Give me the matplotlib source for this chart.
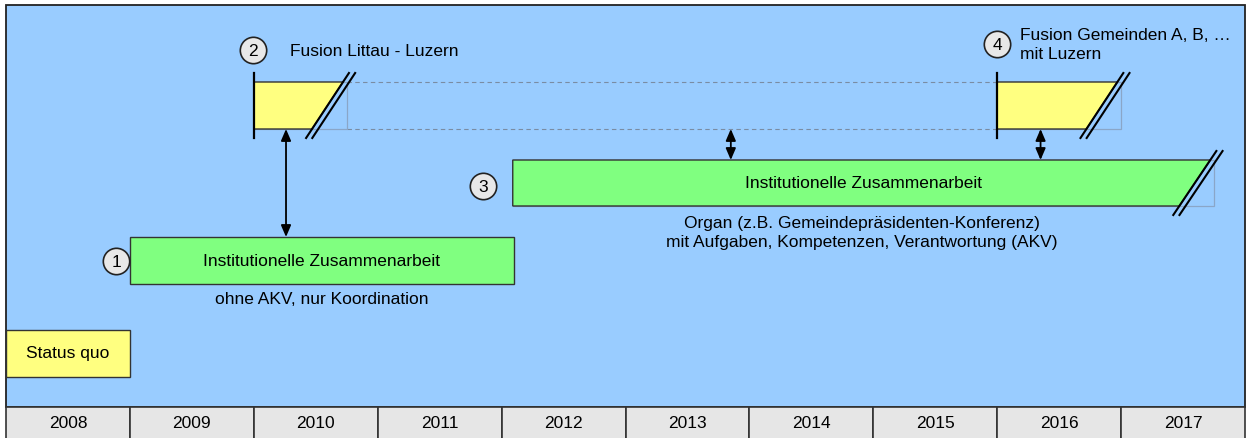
import matplotlib
matplotlib.use("Agg")
import matplotlib.pyplot as plt
from matplotlib.patches import Polygon, Rectangle

plt.rcParams['font.family'] = ['Liberation Sans', 'DejaVu Sans']

# Jahre der Zeitachse
jahre = [2008, 2009, 2010, 2011, 2012, 2013, 2014, 2015, 2016, 2017]

# Phasen: Start, Ende (Jahr), obere/untere Kante (Pixelzeile)
phasen_namen = ['Status quo', 'Institutionelle Zusammenarbeit', 'Fusion Littau - Luzern',
                'Institutionelle Zusammenarbeit', 'Fusion Gemeinden A, B, …\nmit Luzern']
phasen_start = [2008.0, 2009.0, 2010.0, 2012.09, 2016.0]
phasen_ende = [2009.0, 2012.1, 2010.75, 2017.75, 2017.0]
phasen_oben = [331, 238, 83, 161, 83]
phasen_unten = [378, 285, 130, 207, 130]
phasen_farbe = ['#FFFF80', '#80FF80', '#FFFF80', '#80FF80', '#FFFF80']
phasen_offen = [False, False, True, True, True]   # offenes Ende (schraeg + //)

# Nummern-Kreise
kreis_nr = ['1', '2', '3', '4']
kreis_x = [2008.89, 2009.99, 2011.85, 2016.0]
kreis_y = [262, 51, 187, 45]

# Pfeile zwischen den Phasen
pfeil_x = [2010.26, 2013.85, 2016.35]
pfeil_von = [130, 130, 130]
pfeil_bis = [238, 161, 161]

blau = '#99CCFF'
px_jahr = 123.9
fs = 12.5

fig = plt.figure(figsize=(12.46, 4.39), dpi=100)
ax = fig.add_axes([0, 0, 1, 1])
ax.set_xlim(2008 - 6 / px_jahr, 2008 + 1240 / px_jahr)
ax.set_ylim(439, 0)
ax.axis('off')

# Hintergrund
ax.add_patch(Rectangle((2008, 6), 10, 402, facecolor=blau, edgecolor='#222222', lw=1.3, zorder=0))

# Jahreszeile
for j in jahre:
    ax.add_patch(Rectangle((j, 408), 1, 40, facecolor='#E6E6E6', edgecolor='#333333', lw=1.2, zorder=1))
    ax.text(j + 0.5, 424, str(j), ha='center', va='center', fontsize=fs, zorder=2)

# gestrichelte Verbindung zwischen den Fusionen
for y in [83, 130]:
    ax.plot([phasen_ende[2], phasen_start[4]], [y, y], ls=(0, (4, 3)), color='#7A8CA3', lw=0.8, zorder=1)

schraeg = 0.25
for i in range(len(phasen_namen)):
    x0, x1 = phasen_start[i], phasen_ende[i]
    y0, y1 = phasen_oben[i], phasen_unten[i]
    if phasen_offen[i]:
        # Geister-Rechteck
        ax.add_patch(Rectangle((x0, y0), x1 - x0, y1 - y0, facecolor='none',
                               edgecolor='#8AA6C8', lw=0.9, zorder=2))
        oben_r = x1 - 0.03
        unten_r = oben_r - schraeg
        ax.add_patch(Polygon([(x0, y0), (oben_r, y0), (unten_r, y1), (x0, y1)],
                             facecolor=phasen_farbe[i], edgecolor='#333333', lw=1.0, zorder=3))
        # Doppelstrich //
        d = (oben_r - unten_r) / (y1 - y0)
        for off in [0.0, 0.05]:
            ax.plot([unten_r - d * 9 + off, oben_r + d * 9 + off], [y1 + 9, y0 - 9],
                    color='black', lw=1.5, zorder=4)
    else:
        ax.add_patch(Rectangle((x0, y0), x1 - x0, y1 - y0, facecolor=phasen_farbe[i],
                               edgecolor='#333333', lw=1.0, zorder=3))

# linke Startbalken der Fusionen
for i in [2, 4]:
    ax.plot([phasen_start[i]] * 2, [phasen_oben[i] - 9, phasen_unten[i] + 9], color='black', lw=1.6, zorder=4)

# Beschriftungen
ax.text((phasen_start[0] + phasen_ende[0]) / 2, 354, phasen_namen[0], ha='center', va='center', fontsize=fs, zorder=5)
ax.text((phasen_start[1] + phasen_ende[1]) / 2, 262, phasen_namen[1], ha='center', va='center', fontsize=fs, zorder=5)
ax.text((phasen_start[1] + phasen_ende[1]) / 2, 300, 'ohne AKV, nur Koordination', ha='center', va='center', fontsize=fs, zorder=5)
ax.text(2010.29, 52, phasen_namen[2], ha='left', va='center', fontsize=fs, zorder=5)
ax.text(2014.92, 184, phasen_namen[3], ha='center', va='center', fontsize=fs, zorder=5)
ax.text(2014.91, 233, 'Organ (z.B. Gemeindepräsidenten-Konferenz)\nmit Aufgaben, Kompetenzen, Verantwortung (AKV)',
        ha='center', va='center', fontsize=fs, linespacing=1.4, zorder=5)
ax.text(2016.18, 45, phasen_namen[4], ha='left', va='center', fontsize=fs, linespacing=1.4, zorder=5)

# Kreise mit Nummern
for nr, x, y in zip(kreis_nr, kreis_x, kreis_y):
    ax.plot(x, y, 'o', ms=19, mfc='#E8E8E8', mec='#222222', mew=1.2, zorder=5)
    ax.text(x, y + 1, nr, ha='center', va='center', fontsize=fs, zorder=6)

# Pfeile
for x, a, b in zip(pfeil_x, pfeil_von, pfeil_bis):
    ax.annotate('', xy=(x, a), xytext=(x, b),
                arrowprops=dict(arrowstyle='<|-|>,head_length=0.7,head_width=0.3', color='black', lw=1.3,
                                shrinkA=0, shrinkB=0), zorder=5)

fig.savefig('out.png', dpi=100)
